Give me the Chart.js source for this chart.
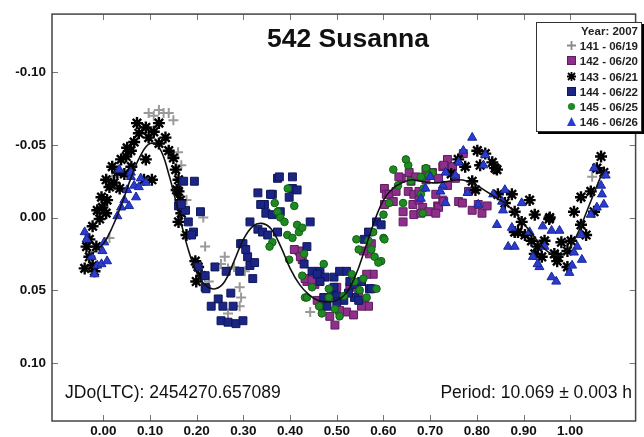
<!DOCTYPE html>
<html>
<head>
<meta charset="utf-8">
<script src="https://cdn.jsdelivr.net/npm/chart.js@4/dist/chart.umd.min.js"></script>
<style>
  body { margin: 0; background: #fff; }
  #wrap { position: relative; width: 644px; height: 437px; font-family: "Liberation Sans", Arial, sans-serif; }
  #chart { position: absolute; left: 0; top: 0; }
  .txt { position: absolute; color: #111; white-space: nowrap; }
  #title { left: 0; width: 696px; top: 23px; text-align: center; font-size: 26.5px; font-weight: bold; }
  #jdo { left: 65px; top: 382px; font-size: 17.5px; }
  #period { right: 12px; top: 382px; font-size: 17.5px; }
  #legend { position: absolute; left: 536px; top: 22px; width: 101px; border: 1px solid #333;
    box-shadow: 2px 2px 0 #000; background: #fff; font-size: 11.5px; font-weight: bold; color: #222;
    text-align: right; padding: 1px 3px 1px 0; line-height: 15.2px; }
  #legend svg { vertical-align: -1px; margin-right: 3px; }
</style>
</head>
<body>
<div id="wrap">
  <canvas id="chart" width="644" height="437"></canvas>
  <div class="txt" id="title">542 Susanna</div>
  <div class="txt" id="jdo">JDo(LTC): 2454270.657089</div>
  <div class="txt" id="period">Period: 10.069 ± 0.003 h</div>
  <div id="legend"></div>
</div>
<script>
// phase / magnitude pairs, one list per night
const night141 = [[0.097,-0.072],[0.119,-0.074],[0.129,-0.072],[0.140,-0.072],[0.150,-0.067],[0.108,-0.070],
  [0.167,-0.036],[0.019,-0.028],[0.214,0.000],[0.218,0.020],[0.226,0.044],[0.252,0.032],[0.267,0.035],
  [0.303,0.037],[0.292,0.048],[0.295,0.055],[0.292,0.061],[0.267,0.066],[0.260,0.027],[0.280,0.034],
  [0.443,0.065],[1.047,-0.028],[0.013,0.014],[0.178,-0.012],[0.160,-0.045]];

const night142 = [[0.419,0.023],[0.426,0.029],[0.436,0.044],[0.453,0.046],[0.458,0.057],[0.468,0.061],
  [0.500,0.048],[0.528,0.048],[0.547,0.051],[0.559,0.059],[0.568,0.061],[0.553,0.061],[0.521,0.065],
  [0.536,0.067],[0.496,0.074],[0.485,0.068],[0.506,0.064],[0.578,0.039],[0.570,0.025],[0.557,0.023],
  [0.574,0.018],[0.602,-0.020],[0.606,-0.016],[0.602,-0.009],[0.612,-0.016],[0.621,-0.011],[0.627,-0.018],
  [0.638,-0.027],[0.655,-0.031],[0.653,-0.018],[0.665,-0.016],[0.642,-0.004],[0.642,0.003],[0.663,-0.009],
  [0.665,-0.002],[0.659,-0.025],[0.669,-0.028],[0.409,0.022],[0.422,0.027],[0.432,0.042],[0.447,0.043],
  [0.564,0.039],[0.633,-0.028],[0.676,-0.012],[0.684,-0.007],[0.697,-0.004],[0.716,-0.008],[0.727,-0.012],
  [0.737,-0.040],[0.727,-0.035],[0.744,-0.034],[0.705,-0.031],[0.691,-0.033],[0.718,-0.027],[0.771,-0.044],
  [0.691,-0.026],[0.676,-0.018],[0.680,-0.003],[0.712,-0.016],[0.718,-0.007],[0.712,-0.003],[0.729,-0.011],
  [0.761,-0.011],[0.769,-0.010],[0.790,-0.005],[0.811,-0.003],[0.803,-0.009],[0.822,-0.008],[0.748,-0.035],
  [0.754,-0.027],[0.782,-0.018],[0.737,-0.022],[0.729,-0.036]];

const night143 = [[-0.040,0.035],[-0.030,0.027],[-0.036,0.020],[-0.023,0.033],[-0.019,0.037],[-0.030,0.015],
  [-0.015,0.020],[-0.023,0.006],[-0.008,0.001],[-0.013,-0.005],[-0.002,-0.007],[-0.004,-0.014],[0.008,-0.012],
  [0.013,-0.021],[0.006,-0.026],[0.023,-0.024],[0.030,-0.031],[0.019,-0.035],[0.038,-0.040],[0.049,-0.042],
  [0.051,-0.048],[0.059,-0.046],[0.066,-0.052],[0.072,-0.065],[0.076,-0.058],[0.091,-0.062],[0.097,-0.055],
  [0.108,-0.059],[0.119,-0.065],[0.119,-0.051],[0.133,-0.055],[0.140,-0.046],[0.150,-0.041],[0.091,-0.040],
  [0.104,-0.026],[0.087,-0.026],[0.155,-0.033],[0.161,-0.026],[0.157,-0.019],[0.165,-0.012],[0.167,-0.003],
  [0.161,0.003],[0.161,-0.018],[0.178,0.012],[0.197,0.030],[0.203,0.034],[0.199,0.044],[0.210,0.040],
  [0.035,-0.020],[0.045,-0.030],[0.060,-0.035],[0.006,-0.003],
  [0.801,-0.046],[0.818,-0.044],[0.833,-0.038],[0.807,-0.036],[0.843,-0.033],[0.790,-0.025],[0.797,-0.019],
  [0.845,-0.016],[0.875,-0.016],[0.913,-0.012],[0.860,-0.010],[0.881,-0.004],[0.924,-0.002],[0.896,0.003],
  [0.881,0.010],[0.903,0.012],[0.917,0.016],[0.930,0.020],[0.939,0.027],[0.924,0.025],[0.839,-0.034],
  [0.955,0.001],[0.888,0.010],[0.945,0.016],[0.981,0.017],[0.966,0.025],[0.994,0.023],[0.972,0.030],
  [0.994,0.034],[1.023,0.005],[1.023,-0.014],[1.044,-0.018],[1.057,-0.034],[1.066,-0.042],[1.051,-0.004],
  [1.008,-0.004],[1.034,0.012],[1.002,0.016],[1.072,-0.031],[0.956,0.000],[0.973,0.027],[0.760,-0.040],
  [0.775,-0.035],[0.745,-0.030]];

const night144 = [[0.172,-0.025],[0.195,-0.025],[0.161,-0.008],[0.176,-0.005],[0.208,-0.004],[0.182,0.003],
  [0.193,0.010],[0.203,0.034],[0.218,0.040],[0.239,0.034],[0.263,0.037],[0.218,0.048],[0.292,0.037],
  [0.314,0.033],[0.294,0.018],[0.309,0.027],[0.314,0.003],[0.331,0.008],[0.331,-0.017],[0.345,-0.009],
  [0.167,-0.009],[0.189,0.012],[0.220,0.049],[0.246,0.056],[0.231,0.061],[0.256,0.061],[0.273,0.052],
  [0.278,0.061],[0.252,0.071],[0.267,0.072],[0.284,0.073],[0.299,0.071],[0.320,0.042],[0.324,0.031],
  [0.299,0.018],[0.305,0.022],[0.341,0.010],[0.348,-0.003],[0.362,-0.016],[0.373,-0.027],[0.405,-0.028],
  [0.405,-0.020],[0.398,-0.014],[0.379,-0.004],[0.362,-0.002],[0.373,0.010],[0.352,0.012],[0.443,0.003],
  [0.436,0.020],[0.430,0.032],[0.447,0.037],[0.464,0.037],[0.475,0.041],[0.494,0.041],[0.506,0.037],
  [0.521,0.037],[0.528,0.044],[0.538,0.046],[0.553,0.044],[0.570,0.049],[0.489,0.051],[0.500,0.054],
  [0.472,0.055],[0.515,0.057],[0.479,0.061],[0.538,0.055],[0.547,0.057],[0.585,0.003],[0.595,0.005],
  [0.568,0.010],[0.559,0.015],[0.415,-0.019],[0.377,-0.028],[0.358,-0.016],[0.337,-0.009],[0.494,0.048],
  [0.525,0.052],[0.574,0.049],[0.458,0.039],[0.464,0.044],[0.500,0.058]];

const night145 = [[0.367,-0.010],[0.373,-0.004],[0.362,0.017],[0.356,0.020],[0.379,0.000],[0.388,0.003],
  [0.394,0.012],[0.405,0.014],[0.415,0.005],[0.409,-0.008],[0.419,0.010],[0.398,0.029],[0.430,0.025],
  [0.432,0.055],[0.472,0.032],[0.426,0.040],[0.447,0.048],[0.436,0.055],[0.483,0.049],[0.483,0.055],
  [0.515,0.054],[0.532,0.039],[0.538,0.044],[0.549,0.050],[0.564,0.055],[0.506,0.068],[0.496,0.063],
  [0.542,0.015],[0.547,0.022],[0.568,0.016],[0.578,0.010],[0.574,0.022],[0.581,0.027],[0.600,0.014],
  [0.600,-0.002],[0.612,-0.010],[0.621,-0.033],[0.631,-0.022],[0.642,-0.010],[0.653,-0.036],[0.659,-0.025],
  [0.684,-0.028],[0.691,-0.034],[0.705,-0.031],[0.684,-0.003],[0.680,-0.028],[0.686,-0.020],[0.697,-0.029],
  [0.680,-0.016],[0.602,0.015],[0.595,0.030],[0.589,0.031],[0.585,0.049],[0.426,0.007],[0.462,0.061],
  [0.468,0.066],[0.557,0.042],[0.648,-0.040],[0.395,-0.020]];

const night146 = [[-0.040,0.010],[-0.036,0.015],[-0.025,0.027],[-0.013,0.033],[-0.019,0.039],[-0.004,0.032],
  [-0.002,0.023],[0.008,0.030],[0.002,0.017],[0.030,-0.001],[0.038,-0.007],[0.045,-0.012],[0.055,-0.008],
  [0.034,-0.033],[0.051,-0.019],[0.059,-0.028],[0.066,-0.022],[0.076,-0.021],[0.080,-0.027],[0.070,-0.014],
  [0.091,-0.024],[0.059,-0.031],
  [0.790,-0.055],[0.771,-0.046],[0.761,-0.038],[0.733,-0.031],[0.754,-0.029],[0.727,-0.022],[0.722,-0.018],
  [0.780,-0.017],[0.733,-0.010],[0.818,-0.043],[0.814,-0.036],[0.860,-0.019],[0.835,-0.016],[0.854,-0.011],
  [0.856,-0.005],[0.896,-0.010],[0.843,0.005],[0.875,0.007],[0.867,0.020],[0.881,0.020],[0.913,0.010],
  [0.920,0.027],[0.934,0.034],[0.803,-0.009],[1.051,-0.034],[1.076,-0.029],[1.066,-0.022],[1.068,-0.016],
  [1.072,-0.009],[1.057,-0.007],[1.044,-0.002],[1.023,0.012],[1.015,0.020],[1.008,0.024],[1.025,0.029],
  [0.941,0.006],[0.960,0.009],[0.977,0.009],[0.960,0.041],[0.970,0.044],[0.998,0.038],[1.004,0.033],
  [0.945,0.020],[0.930,0.032],[0.690,-0.020],[0.700,-0.028],[0.680,-0.013]];

// fitted curve
const fitCurve = [[-0.03,0.026],[0.00,0.018],[0.02,0.006],[0.04,-0.010],[0.06,-0.028],[0.08,-0.043],
  [0.10,-0.051],[0.12,-0.048],[0.14,-0.030],[0.16,-0.005],[0.18,0.020],[0.20,0.038],[0.22,0.047],
  [0.24,0.049],[0.26,0.044],[0.28,0.030],[0.30,0.015],[0.32,0.006],[0.34,0.004],[0.36,0.008],[0.38,0.020],
  [0.40,0.035],[0.42,0.046],[0.44,0.053],[0.46,0.057],[0.48,0.058],[0.50,0.057],[0.52,0.052],[0.54,0.040],
  [0.56,0.022],[0.58,0.003],[0.60,-0.012],[0.62,-0.020],[0.64,-0.024],[0.66,-0.026],[0.68,-0.025],
  [0.70,-0.024],[0.72,-0.024],[0.74,-0.025],[0.76,-0.026],[0.78,-0.025],[0.80,-0.022],[0.82,-0.018],
  [0.84,-0.014],[0.86,-0.010],[0.88,-0.004],[0.90,0.004],[0.92,0.012],[0.94,0.020],[0.96,0.025],
  [0.98,0.026],[1.00,0.020],[1.02,0.008],[1.04,-0.008],[1.06,-0.024],[1.07,-0.032]];

const nightLabels = ['141 - 06/19', '142 - 06/20', '143 - 06/21', '144 - 06/22', '145 - 06/25', '146 - 06/26'];
const legendTitle = 'Year: 2007';
const xTickValues = [0, 0.1, 0.2, 0.3, 0.4, 0.5, 0.6, 0.7, 0.8, 0.9, 1.0];
const yTickValues = [-0.10, -0.05, 0, 0.05, 0.10];

const pts = arr => arr.map(p => ({ x: p[0], y: p[1] }));

const styles = [
  { pointStyle: 'cross', radius: 5, bg: '#9a9a9a', border: '#9a9a9a', bw: 2 },
  { pointStyle: 'rect', radius: 5.6, bg: '#8e2f8c', border: '#5e1d5c', bw: 1 },
  { pointStyle: 'star', radius: 6, bg: '#000', border: '#000', bw: 2.4 },
  { pointStyle: 'rect', radius: 5.6, bg: '#1b2585', border: '#10175a', bw: 1 },
  { pointStyle: 'circle', radius: 3.8, bg: '#1f8a22', border: '#136015', bw: 1 },
  { pointStyle: 'triangle', radius: 5.2, bg: '#2a3bd0', border: '#1b2799', bw: 1 }
];
const nights = [night141, night142, night143, night144, night145, night146];

const datasets = [{
  type: 'line', label: 'fit', data: pts(fitCurve), borderColor: '#111', borderWidth: 1.6,
  pointRadius: 0, tension: 0.4, fill: false, order: 0
}];
nights.forEach((n, i) => {
  const s = styles[i];
  datasets.push({
    label: nightLabels[i], data: pts(n), pointStyle: s.pointStyle, pointRadius: s.radius,
    backgroundColor: s.bg, borderColor: s.border, borderWidth: s.bw, order: 6 - i
  });
});

// frame plus inward tick marks on all four sides
const framePlugin = {
  id: 'frame',
  afterDraw(chart) {
    const { ctx, chartArea: a, scales } = chart;
    ctx.save();
    ctx.strokeStyle = '#777';
    ctx.lineWidth = 1;
    ctx.beginPath();
    xTickValues.forEach(v => {
      const px = Math.round(scales.x.getPixelForValue(v)) + 0.5;
      ctx.moveTo(px, a.bottom); ctx.lineTo(px, a.bottom - 6);
      ctx.moveTo(px, a.top); ctx.lineTo(px, a.top + 6);
    });
    yTickValues.forEach(v => {
      const py = Math.round(scales.y.getPixelForValue(v)) + 0.5;
      ctx.moveTo(a.left, py); ctx.lineTo(a.left + 6, py);
      ctx.moveTo(a.right, py); ctx.lineTo(a.right - 6, py);
    });
    ctx.stroke();
    ctx.strokeStyle = '#444';
    ctx.lineWidth = 1.5;
    ctx.strokeRect(a.left, a.top, a.right - a.left, a.bottom - a.top);
    ctx.restore();
  }
};

const tickFont = { family: 'Liberation Sans', size: 13.5, weight: 'bold' };

new Chart(document.getElementById('chart'), {
  type: 'scatter',
  data: { datasets },
  options: {
    responsive: false,
    animation: false,
    layout: { padding: { top: 8, right: 3, left: 0, bottom: 0 } },
    plugins: { legend: { display: false }, tooltip: { enabled: false } },
    scales: {
      x: {
        type: 'linear', min: -0.11, max: 1.14,
        afterBuildTicks: s => { s.ticks = xTickValues.map(v => ({ value: v })); },
        afterFit: s => { s.height = 16; },
        grid: { display: false, drawTicks: false },
        border: { display: false },
        ticks: { font: tickFont, color: '#111', padding: 2, callback: v => v.toFixed(2) }
      },
      y: {
        type: 'linear', min: -0.14, max: 0.14, reverse: true,
        afterBuildTicks: s => { s.ticks = yTickValues.map(v => ({ value: v })); },
        afterFit: s => { s.width = 52; },
        grid: { display: false, drawTicks: false },
        border: { display: false },
        ticks: { font: tickFont, color: '#111', padding: 6, callback: v => v.toFixed(2) }
      }
    }
  },
  plugins: [framePlugin]
});

// legend box
const icons = [
  '<svg width="11" height="11"><path d="M1 5.5H10M5.5 1V10" stroke="#8a8a8a" stroke-width="1.8"/></svg>',
  '<svg width="11" height="11"><rect x="1.5" y="1.5" width="8" height="8" fill="#8e2f8c" stroke="#5e1d5c"/></svg>',
  '<svg width="11" height="11"><path d="M1 5.5H10M5.5 1V10M2 2L9 9M9 2L2 9" stroke="#000" stroke-width="1.8"/></svg>',
  '<svg width="11" height="11"><rect x="1.5" y="1.5" width="8" height="8" fill="#1b2585" stroke="#10175a"/></svg>',
  '<svg width="11" height="11"><circle cx="5.5" cy="5.5" r="3.6" fill="#1f8a22"/></svg>',
  '<svg width="11" height="11"><path d="M5.5 1L10 10H1Z" fill="#2a3bd0"/></svg>'
];
let html = '<div>' + legendTitle + '</div>';
nightLabels.forEach((l, i) => { html += '<div>' + icons[i] + l + '</div>'; });
document.getElementById('legend').innerHTML = html;
</script>
</body>
</html>
